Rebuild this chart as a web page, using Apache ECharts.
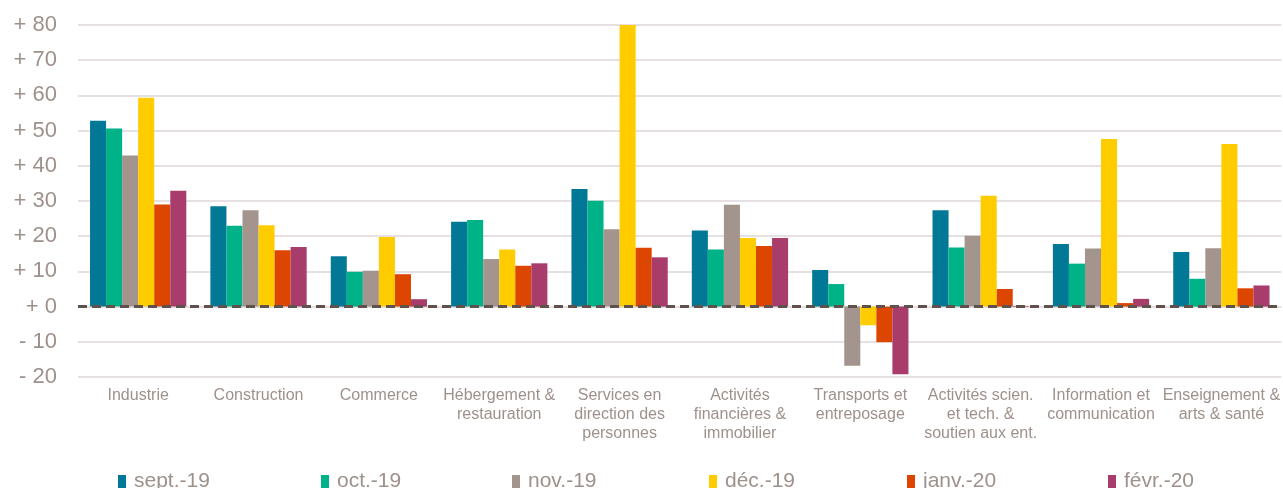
<!DOCTYPE html>
<html>
<head>
<meta charset="utf-8">
<script src="https://cdn.jsdelivr.net/npm/echarts@6/dist/echarts.min.js"></script>
<style>
html,body{margin:0;padding:0;background:#fff;}
#chart{width:1283px;height:488px;}
</style>
</head>
<body>
<div id="chart"></div>
<script>
const categories = [
  "Industrie", "Construction", "Commerce", "Hébergement &\nrestauration",
  "Services en\ndirection des\npersonnes", "Activités\nfinancières &\nimmobilier",
  "Transports et\nentreposage", "Activités scien.\net tech. &\nsoutien aux ent.",
  "Information et\ncommunication", "Enseignement &\narts & santé"
];
const seriesNames = ["sept.-19", "oct.-19", "nov.-19", "déc.-19", "janv.-20", "févr.-20"];
const sept19 = [52.8, 28.5, 14.3, 24.1, 33.4, 21.6, 10.4, 27.4, 17.8, 15.5];
const oct19  = [50.6, 23.0, 9.9, 24.6, 30.1, 16.2, 6.4, 16.8, 12.2, 7.9];
const nov19  = [42.9, 27.4, 10.2, 13.5, 22.0, 28.9, -16.8, 20.1, 16.5, 16.6];
const dec19  = [59.3, 23.1, 19.8, 16.2, 80.0, 19.5, -5.3, 31.5, 47.6, 46.2];
const janv20 = [29.0, 16.0, 9.2, 11.6, 16.7, 17.2, -10.1, 5.0, 1.0, 5.2];
const fevr20 = [32.9, 16.9, 2.1, 12.3, 14.0, 19.5, -19.2, 0.2, 2.2, 6.0];
const yTicks = { min: -20, max: 80, interval: 10 };

const values = [sept19, oct19, nov19, dec19, janv20, fevr20];
const colors = ["#007896", "#00b287", "#a3948e", "#ffcc00", "#dd4600", "#a83c6b"];
const legendLeft = [118, 321, 512, 709, 907, 1108];
const textGrey = "#9e918b";

const series = values.map((v, i) => {
  const s = {
    name: seriesNames[i],
    type: "bar",
    data: v,
    barGap: "0%",
    barCategoryGap: "20%",
    itemStyle: { color: colors[i] },
    emphasis: { disabled: true }
  };
  if (i === 0) {
    s.markLine = {
      silent: true,
      symbol: "none",
      label: { show: false },
      lineStyle: { color: "#5f524c", width: 3, type: [9, 5] },
      data: [{ yAxis: 0 }],
      z: 10
    };
  }
  return s;
});

const legends = seriesNames.map((n, i) => ({
  data: [{ name: n, icon: "rect" }],
  left: legendLeft[i],
  top: 471,
  itemWidth: 8,
  itemHeight: 13,
  padding: 0,
  textStyle: { color: textGrey, fontSize: 21, fontFamily: "Liberation Sans, Arial", padding: [0, 0, 0, 3] },
  selectedMode: false
}));

const chart = echarts.init(document.getElementById("chart"));
chart.setOption({
  animation: false,
  color: colors,
  grid: { left: 78, right: 0, top: 25, bottom: 111 },
  legend: legends,
  xAxis: {
    type: "category",
    data: categories,
    axisLine: { show: false, onZero: false },
    axisTick: { show: false },
    axisLabel: {
      interval: 0,
      color: textGrey,
      fontSize: 16,
      lineHeight: 19,
      fontFamily: "Liberation Sans, Arial",
      margin: 9
    }
  },
  yAxis: {
    type: "value",
    min: yTicks.min,
    max: yTicks.max,
    interval: yTicks.interval,
    axisLine: { show: false },
    axisTick: { show: false },
    splitLine: { lineStyle: { color: "#e6e0e2", width: 2 } },
    axisLabel: {
      color: textGrey,
      fontSize: 22,
      fontFamily: "Liberation Sans, Arial",
      margin: 21,
      formatter: v => (v >= 0 ? "+ " + v : "- " + (-v))
    }
  },
  series: series
});
</script>
</body>
</html>
